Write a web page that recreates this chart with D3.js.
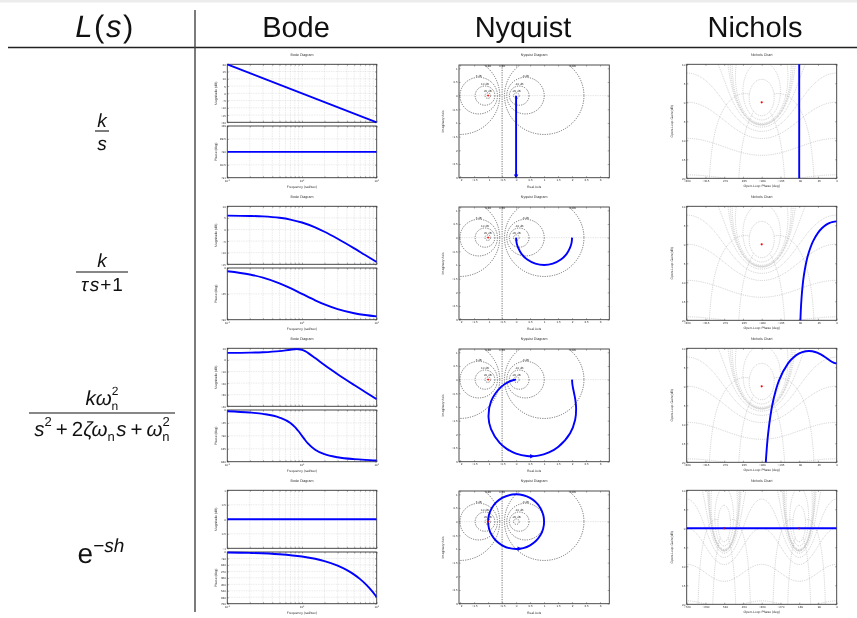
<!DOCTYPE html>
<html>
<head>
<meta charset="utf-8">
<script src="https://cdn.jsdelivr.net/npm/d3@7"></script>
<style>
body { margin: 0; background: #fff; }
svg { opacity: 0.999; will-change: transform; }
svg text { font-family: "Liberation Sans", Arial, sans-serif; text-rendering: geometricPrecision; }
</style>
</head>
<body>
<script>
// ---------- data ----------
// row 1 : k/s
var bode1W = [0.1, 10];
var bode1Mag = [20, -20];
var bode1Phase = [-90, -90];
var nyq1Re = [0, 0];
var nyq1Im = [0, -10];
var nich1Phase = [-90, -90];
var nich1Gain = [30, -40];

// row 2 : k/(tau s + 1)
var bode2W = [0.1, 0.2, 0.3, 0.5, 0.7, 1, 1.5, 2, 3, 5, 7, 10];
var bode2Mag = [5.98, 5.85, 5.65, 5.05, 4.28, 3.01, 0.9, -0.97, -3.98, -8.13, -11.0, -14.0];
var bode2Phase = [-5.7, -11.3, -16.7, -26.6, -35, -45, -56.3, -63.4, -71.6, -78.7, -81.9, -84.3];
var nyq2Re = [2, 1.98, 1.92, 1.8, 1.6, 1.31, 1, 0.69, 0.4, 0.2, 0.08, 0.02, 0];
var nyq2Im = [0, -0.2, -0.38, -0.6, -0.8, -0.95, -1, -0.95, -0.8, -0.6, -0.38, -0.2, 0];
var nich2Phase = [0, -5.7, -11.3, -16.7, -26.6, -35, -45, -56.3, -63.4, -71.6, -78.7, -81.9, -84.3, -86.2, -87.1, -88.1];
var nich2Gain = [6.02, 5.98, 5.85, 5.65, 5.05, 4.28, 3.01, 0.9, -0.97, -3.98, -8.13, -11.0, -14.0, -17.5, -20.0, -23.5];

// row 3 : second order
var bode3W = [0.1, 0.2, 0.3, 0.5, 0.7, 0.8, 0.85, 0.9, 1, 1.1, 1.2, 1.5, 2, 3, 5, 7, 10];
var bode3Mag = [6.08, 6.27, 6.59, 7.57, 8.79, 9.21, 9.27, 9.21, 8.64, 7.53, 6.10, 1.56, -4.47, -12.36, -21.68, -27.65, -33.92];
var bode3Phase = [-4.27, -8.76, -13.7, -26.3, -45.45, -58.7, -66.2, -74.1, -90, -104.5, -116.4, -138.4, -153.7, -164.5, -171.2, -173.8, -175.7];
var nyq3Re = [2, 2.009, 2.035, 2.074, 2.118, 2.145, 2.110, 1.930, 1.500, 1.174, 0.792, 0.387, 0, -0.334, -0.594, -0.896, -0.985, -0.895, -0.536, -0.232, -0.081, -0.020, 0];
var nyq3Im = [0, -0.150, -0.314, -0.506, -0.746, -1.058, -1.464, -1.961, -2.466, -2.662, -2.777, -2.791, -2.703, -2.530, -2.304, -1.808, -1.373, -0.794, -0.265, -0.064, -0.0125, -0.0015, 0];
var nich3Phase = [0, -4.27, -8.76, -13.7, -26.3, -45.45, -58.7, -66.2, -74.1, -90, -104.5, -116.4, -138.4, -153.7, -164.5, -171.2, -173.8];
var nich3Gain = [6.02, 6.08, 6.27, 6.59, 7.57, 8.79, 9.21, 9.27, 9.21, 8.64, 7.53, 6.10, 1.56, -4.47, -12.36, -21.68, -27.65];

// row 4 : delay
var bode4W = [0.1, 10];
var bode4Mag = [0, 0];
var bode4PW = [0.1, 0.2, 0.5, 1, 1.5, 2, 3, 4, 5, 6, 7, 8, 9, 10];
var bode4Phase = [-6.3, -12.6, -31.5, -63, -94.5, -126, -189, -252, -315, -378, -441, -504, -567, -630];
var nyq4Re = [1, 0.866, 0.5, 0, -0.5, -0.866, -1, -0.866, -0.5, 0, 0.5, 0.866];
var nyq4Im = [0, -0.5, -0.866, -1, -0.866, -0.5, 0, 0.5, 0.866, 1, 0.866, 0.5];
var nich4Phase = [-760, 0];
var nich4Gain = [0, 0];

// axis ticks
var bodeMagTicks = [d3.range(-20, 21, 5), d3.range(-15, 11, 5), d3.range(-40, 11, 10), [-1, -0.5, 0, 0.5, 1]];
var bodeMagDom = [[-20, 20], [-15, 10], [-40, 10], [-1, 1]];
var bodePhTicks = [[-91, -90.5, -90, -89.5, -89], [-90, -45, 0], [-180, -135, -90, -45, 0], d3.range(-720, 1, 90)];
var bodePhDom = [[-91, -89], [-90, 0], [-180, 0], [-720, 0]];
var nyqXTicks = [-2, -1.5, -1, -0.5, 0, 0.5, 1, 1.5, 2, 2.5, 3];
var nyqYTicks = [-3, -2.5, -2, -1.5, -1, -0.5, 0, 0.5, 1];
var nyqDb = [-20, -10, -6, -3, 0, 3, 6, 10, 20];
var nichGainTicks = [-20, -15, -10, -5, 0, 5, 10];
var nichM = [6, 3, 1, 0.5, 0.25, 0, -1, -3, -6, -12, -20];
var nichN = [-50, -120, -240, -310];

// ---------- layout ----------
var rowPitch = 142;
var bodeL = 227.3, bodeR = 376.7, magT = 64.3, magB = 122.3, phT = 126, phB = 177.7;
var nyL = 459, nyR = 609.3, nyT = 65, nyB = 177.7;
var niL = 686.7, niR = 836.7, niT = 64.3, niB = 178.3;
var small = 3.4, ink = "#333", lw = 1.9;

var svg = d3.select("body").append("svg").attr("width", 857).attr("height", 618);
svg.append("rect").attr("width", 857).attr("height", 618).attr("fill", "#fff");
var defs = svg.append("defs");
var clipId = 0;

function clip(x, y, w, h) {
    var id = "c" + (clipId++);
    defs.append("clipPath").attr("id", id).append("rect")
        .attr("x", x).attr("y", y).attr("width", w).attr("height", h);
    return "url(#" + id + ")";
}

function txt(g, x, y, s, size, anchor) {
    return g.append("text").attr("x", x).attr("y", y).attr("font-size", size)
        .attr("text-anchor", anchor || "middle").attr("fill", ink).text(s);
}

function vtxt(g, x, y, s) {
    return g.append("text").attr("transform", "translate(" + x + "," + y + ") rotate(-90)")
        .attr("font-size", small).attr("text-anchor", "middle").attr("fill", ink).text(s);
}

function boxFrame(g, x0, y0, x1, y1) {
    g.append("rect").attr("x", x0).attr("y", y0).attr("width", x1 - x0).attr("height", y1 - y0)
        .attr("fill", "none").attr("stroke", "#3a3a3a").attr("stroke-width", 0.9);
}

function yAxis(g, y, x0, x1, ticks) {
    var a = g.append("g").attr("transform", "translate(" + x0 + ",0)")
        .call(d3.axisLeft(y).tickValues(ticks).tickSizeInner(-1.6).tickSizeOuter(0).tickPadding(1.4).tickFormat(d3.format("")));
    a.select(".domain").remove();
    a.selectAll("text").attr("font-size", small - 0.4).attr("fill", ink);
    a.selectAll("line").attr("stroke", ink).attr("stroke-width", 0.4);
    var b = g.append("g").attr("transform", "translate(" + x1 + ",0)")
        .call(d3.axisRight(y).tickValues(ticks).tickSizeInner(-1.6).tickSizeOuter(0).tickFormat(""));
    b.select(".domain").remove();
    b.selectAll("line").attr("stroke", ink).attr("stroke-width", 0.4);
}

function xAxis(g, x, y0, y1, ticks, labels) {
    var a = g.append("g").attr("transform", "translate(0," + y1 + ")")
        .call(d3.axisBottom(x).tickValues(ticks).tickSizeInner(-1.6).tickSizeOuter(0).tickPadding(1.6).tickFormat(labels ? d3.format("") : ""));
    a.select(".domain").remove();
    a.selectAll("text").attr("font-size", small - 0.4).attr("fill", ink);
    a.selectAll("line").attr("stroke", ink).attr("stroke-width", 0.4);
    var b = g.append("g").attr("transform", "translate(0," + y0 + ")")
        .call(d3.axisTop(x).tickValues(ticks).tickSizeInner(-1.6).tickSizeOuter(0).tickFormat(""));
    b.select(".domain").remove();
    b.selectAll("line").attr("stroke", ink).attr("stroke-width", 0.4);
}

function zip(a, b) { return a.map(function (v, i) { return [v, b[i]]; }); }

// ---------- header ----------
svg.append("rect").attr("x", 0).attr("y", 0).attr("width", 857).attr("height", 2.5).attr("fill", "#ececec");
var head = svg.append("g").attr("font-size", 29).attr("fill", "#111");
var ls = head.append("text").attr("x", 105).attr("y", 37).attr("text-anchor", "middle").attr("font-size", 31).attr("letter-spacing", 1.5);
ls.append("tspan").attr("font-style", "italic").text("L");
ls.append("tspan").text("(");
ls.append("tspan").attr("font-style", "italic").text("s");
ls.append("tspan").text(")");
head.append("text").attr("x", 296).attr("y", 37).attr("text-anchor", "middle").text("Bode");
head.append("text").attr("x", 523).attr("y", 37).attr("text-anchor", "middle").text("Nyquist");
head.append("text").attr("x", 755).attr("y", 37).attr("text-anchor", "middle").text("Nichols");
svg.append("line").attr("x1", 8).attr("x2", 857).attr("y1", 47.5).attr("y2", 47.5).attr("stroke", "#222").attr("stroke-width", 1.4);
svg.append("line").attr("x1", 195).attr("x2", 195).attr("y1", 10).attr("y2", 612).attr("stroke", "#444").attr("stroke-width", 1.4);

// ---------- formulas ----------
var fm = svg.append("g").attr("fill", "#111").attr("font-family", "'DejaVu Sans', sans-serif");
function frac(cx, numY, barY, denY, x0, x1, num, den, size) {
    var n = fm.append("text").attr("x", cx).attr("y", numY).attr("text-anchor", "middle").attr("font-size", size || 19);
    num(n);
    fm.append("line").attr("x1", x0).attr("x2", x1).attr("y1", barY).attr("y2", barY).attr("stroke", "#111").attr("stroke-width", 1.1);
    var d = fm.append("text").attr("x", cx).attr("y", denY).attr("text-anchor", "middle").attr("font-size", size || 19);
    den(d);
}
function it(t, s) { return t.append("tspan").attr("font-style", "italic").text(s); }
function up(t, s) { return t.append("tspan").text(s); }
function supsub(t) {
    t.append("tspan").attr("font-size", 12).attr("dy", -10).text("2");
    t.append("tspan").attr("font-size", 12).attr("dx", -7).attr("dy", 15).text("n");
}

frac(102, 127, 131, 150, 95, 109, function (t) { it(t, "k"); }, function (t) { it(t, "s"); });
frac(102, 267, 272, 291, 76, 128, function (t) { it(t, "k"); }, function (t) {
    it(t, "τ"); it(t, "s").attr("dx", 1.5); up(t, "+").attr("dx", 1); up(t, "1").attr("dx", 1);
});
frac(102, 405, 413, 436, 29, 175, function (t) {
    it(t, "kω"); supsub(t);
}, function (t) {
    it(t, "s"); t.append("tspan").attr("font-size", 13).attr("dy", -10).text("2");
    up(t, "+").attr("dy", 10).attr("dx", 4); up(t, "2").attr("dx", 4); it(t, "ζω");
    t.append("tspan").attr("font-size", 13).attr("dy", 5).text("n");
    it(t, "s").attr("dy", -5).attr("dx", 1.5); up(t, "+").attr("dx", 4); it(t, "ω").attr("dx", 4);
    t.append("tspan").attr("font-size", 13).attr("dy", -10).text("2");
    t.append("tspan").attr("font-size", 13).attr("dx", -7.5).attr("dy", 15).text("n");
}, 20.5);
var ex = fm.append("text").attr("x", 101).attr("y", 563).attr("text-anchor", "middle").attr("font-size", 28);
ex.append("tspan").text("e");
ex.append("tspan").attr("font-size", 19).attr("dy", -11).text("−");
ex.append("tspan").attr("font-size", 19).attr("font-style", "italic").text("sh");

// ---------- bode ----------
var logGrid = [0.2, 0.3, 0.4, 0.5, 0.6, 0.7, 0.8, 0.9, 1, 2, 3, 4, 5, 6, 7, 8, 9];
var bodeData = [
    [bode1W, bode1Mag, bode1W, bode1Phase],
    [bode2W, bode2Mag, bode2W, bode2Phase],
    [bode3W, bode3Mag, bode3W, bode3Phase],
    [bode4W, bode4Mag, bode4PW, bode4Phase]
];

function bode(r) {
    var oy = r * rowPitch;
    var g = svg.append("g");
    var x = d3.scaleLog().domain([0.1, 10]).range([bodeL, bodeR]);
    var yM = d3.scaleLinear().domain(bodeMagDom[r]).range([magB + oy, magT + oy]);
    var yP = d3.scaleLinear().domain(bodePhDom[r]).range([phB + oy, phT + oy]);
    [[yM, bodeMagTicks[r], magT + oy, magB + oy], [yP, bodePhTicks[r], phT + oy, phB + oy]].forEach(function (p) {
        var y = p[0];
        g.selectAll(null).data(logGrid).enter().append("line")
            .attr("x1", x).attr("x2", x).attr("y1", p[2]).attr("y2", p[3])
            .attr("stroke", "#c4c4c4").attr("stroke-width", 0.45).attr("stroke-dasharray", "0.8,0.9");
        g.selectAll(null).data(p[1]).enter().append("line")
            .attr("x1", bodeL).attr("x2", bodeR).attr("y1", y).attr("y2", y)
            .attr("stroke", "#c4c4c4").attr("stroke-width", 0.45).attr("stroke-dasharray", "0.8,0.9");
        yAxis(g, y, bodeL, bodeR, p[1]);
        xAxis(g, x, p[2], p[3], logGrid.concat([0.1, 10]), false);
        boxFrame(g, bodeL, p[2], bodeR, p[3]);
    });
    var d = bodeData[r];
    var lineM = d3.line().x(function (v) { return x(v[0]); }).y(function (v) { return yM(v[1]); }).curve(d3.curveMonotoneX);
    var lineP = d3.line().x(function (v) { return x(v[0]); }).y(function (v) { return yP(v[1]); }).curve(d3.curveMonotoneX);
    g.append("path").attr("d", lineM(zip(d[0], d[1]))).attr("fill", "none").attr("stroke", "#0000ff").attr("stroke-width", lw)
        .attr("clip-path", clip(bodeL, magT + oy - 1, bodeR - bodeL, magB - magT + 2));
    g.append("path").attr("d", lineP(zip(d[2], d[3]))).attr("fill", "none").attr("stroke", "#0000ff").attr("stroke-width", lw)
        .attr("clip-path", clip(bodeL, phT + oy - 1, bodeR - bodeL, phB - phT + 2));
    [-1, 0, 1].forEach(function (e) {
        var t = g.append("text").attr("x", x(Math.pow(10, e))).attr("y", phB + oy + 4.6).attr("font-size", 3).attr("text-anchor", "middle").attr("fill", ink);
        t.append("tspan").text("10");
        t.append("tspan").attr("font-size", 2.2).attr("dy", -1.3).text(e);
    });
    txt(g, (bodeL + bodeR) / 2, 55.7 + oy, "Bode Diagram", 3.6);
    txt(g, (bodeL + bodeR) / 2, 188 + oy, "Frequency  (rad/sec)", small);
    vtxt(g, 216.5, (magT + magB) / 2 + oy, "Magnitude (dB)");
    vtxt(g, 216.5, (phT + phB) / 2 + oy, "Phase (deg)");
}

// ---------- nyquist ----------
var nyqData = [[nyq1Re, nyq1Im], [nyq2Re, nyq2Im], [nyq3Re, nyq3Im], [nyq4Re, nyq4Im]];
var nyqArrow = [[0, -2.93, 180], null, [0.55, -2.8, 90], [0.1, -0.99, 90]];

function nyquist(r) {
    var oy = r * rowPitch;
    var g = svg.append("g");
    var x = d3.scaleLinear().domain([-2.04, 3.33]).range([nyL, nyR]);
    var y = d3.scaleLinear().domain([-3, 1.12]).range([nyB + oy, nyT + oy]);
    var cp = clip(nyL, nyT + oy, nyR - nyL, nyB - nyT);
    var grid = g.append("g").attr("clip-path", cp);
    grid.append("line").attr("x1", nyL).attr("x2", nyR).attr("y1", y(0)).attr("y2", y(0))
        .attr("stroke", "#bbb").attr("stroke-width", 0.5).attr("stroke-dasharray", "0.8,0.9");
    nyqDb.forEach(function (db) {
        var m = Math.pow(10, db / 20);
        var lx, ly;
        if (db === 0) {
            grid.append("line").attr("x1", x(-0.5)).attr("x2", x(-0.5)).attr("y1", nyT + oy).attr("y2", nyB + oy)
                .attr("stroke", "#4a4a4a").attr("stroke-width", 0.75).attr("stroke-dasharray", "1.2,1.2");
            lx = -0.5; ly = 1.0;
        } else {
            var c = -m * m / (m * m - 1), rad = Math.abs(m / (m * m - 1));
            grid.append("ellipse").attr("cx", x(c)).attr("cy", y(0))
                .attr("rx", x(c + rad) - x(c)).attr("ry", y(0) - y(rad))
                .attr("fill", "none").attr("stroke", "#4a4a4a").attr("stroke-width", 0.75).attr("stroke-dasharray", "1.2,1.2");
            if (rad < 1.05) { lx = c; ly = rad; }
            else { lx = c + Math.sqrt(rad * rad - 1); ly = 1.0; }
        }
        txt(g, x(lx), y(ly) - 0.8, db + " dB", 3);
    });
    var d = nyqData[r];
    var line = d3.line().x(function (v) { return x(v[0]); }).y(function (v) { return y(v[1]); })
        .curve(r === 3 ? d3.curveCatmullRomClosed : (r === 0 ? d3.curveLinear : d3.curveCatmullRom));
    g.append("path").attr("d", line(zip(d[0], d[1]))).attr("fill", "none").attr("stroke", "#0000ff")
        .attr("stroke-width", lw).attr("clip-path", cp);
    if (nyqArrow[r]) {
        var a = nyqArrow[r];
        g.append("path").attr("d", d3.symbol(d3.symbolTriangle, 9)())
            .attr("transform", "translate(" + x(a[0]) + "," + y(a[1]) + ") rotate(" + a[2] + ")").attr("fill", "#0000ff");
    }
    g.append("path").attr("d", d3.symbol(d3.symbolCross, 3)()).attr("transform", "translate(" + x(-1) + "," + y(0) + ")").attr("fill", "#ff0000");
    yAxis(g, y, nyL, nyR, nyqYTicks);
    xAxis(g, x, nyT + oy, nyB + oy, nyqXTicks, true);
    boxFrame(g, nyL, nyT + oy, nyR, nyB + oy);
    txt(g, (nyL + nyR) / 2, 55.7 + oy, "Nyquist Diagram", 3.6);
    txt(g, (nyL + nyR) / 2, 187.5 + oy, "Real Axis", small);
    vtxt(g, 443.5, (nyT + nyB) / 2 + oy, "Imaginary Axis");
}

// ---------- nichols ----------
var nichData = [[nich1Phase, nich1Gain], [nich2Phase, nich2Gain], [nich3Phase, nich3Gain], [nich4Phase, nich4Gain]];

// open-loop point for a closed-loop magnitude m and phase phi (grid contours)
function olPoint(m, phiDeg) {
    var p = phiDeg * Math.PI / 180, tr = m * Math.cos(p), ti = m * Math.sin(p);
    var den = (1 - tr) * (1 - tr) + ti * ti;
    var gr = (tr - m * m) / den, gi = ti / den;
    var ph = Math.atan2(gi, gr) * 180 / Math.PI;
    if (ph > 0) ph -= 360;
    return [ph, 10 * Math.log10(gr * gr + gi * gi)];
}

function breakJumps(pts) {
    var out = [];
    pts.forEach(function (p, i) {
        if (i > 0 && Math.abs(p[0] - pts[i - 1][0]) > 90) out.push(null);
        out.push(p);
    });
    return out;
}

function nichols(r) {
    var oy = r * rowPitch;
    var g = svg.append("g");
    var xmin = r === 3 ? -720 : -360;
    var x = d3.scaleLinear().domain([xmin, 0]).range([niL, niR]);
    var y = d3.scaleLinear().domain([-20, 10]).range([niB + oy, niT + oy]);
    var cp = clip(niL, niT + oy, niR - niL, niB - niT);
    var grid = g.append("g").attr("clip-path", cp);
    var shifts = r === 3 ? [0, -360] : [0];
    var contours = [];
    nichM.forEach(function (db) {
        var m = Math.pow(10, db / 20);
        contours.push(breakJumps(d3.range(-0.25, -360, -0.5).map(function (phi) { return olPoint(m, phi); })));
    });
    nichN.forEach(function (phi) {
        contours.push(breakJumps(d3.range(-120, 13).map(function (k) { return olPoint(Math.pow(10, k / 40), phi); })));
    });
    shifts.forEach(function (s) {
        var line = d3.line().defined(function (v) { return v && isFinite(v[1]); })
            .x(function (v) { return x(v[0] + s); }).y(function (v) { return y(Math.max(-60, Math.min(40, v[1]))); });
        contours.forEach(function (c) {
            grid.append("path").attr("d", line(c)).attr("fill", "none")
                .attr("stroke", "#a8a8a8").attr("stroke-width", 0.55).attr("stroke-dasharray", "0.9,1");
        });
    });
    var xticks = d3.range(xmin, 1, r === 3 ? 90 : 45);
    yAxis(g, y, niL, niR, nichGainTicks);
    xAxis(g, x, niT + oy, niB + oy, xticks, true);
    boxFrame(g, niL, niT + oy, niR, niB + oy);
    var d = nichData[r];
    var line = d3.line().x(function (v) { return x(v[0]); }).y(function (v) { return y(v[1]); }).curve(d3.curveMonotoneY);
    if (r === 1 || r === 2) line.curve(d3.curveCatmullRom);
    g.append("path").attr("d", line(zip(d[0], d[1]))).attr("fill", "none").attr("stroke", "#0000ff")
        .attr("stroke-width", lw).attr("clip-path", cp);
    shifts.forEach(function (s) {
        g.append("circle").attr("cx", x(-180 + s)).attr("cy", y(0)).attr("r", 1.1)
            .attr("fill", r === 3 ? "#8a0a6a" : "#ff0000");
    });
    txt(g, (niL + niR) / 2, 55.7 + oy, "Nichols Chart", 3.6);
    txt(g, (niL + niR) / 2, 187.3 + oy, "Open-Loop Phase (deg)", small);
    vtxt(g, 673, (niT + niB) / 2 + oy, "Open-Loop Gain (dB)");
}

for (var r = 0; r < 4; r++) { bode(r); nyquist(r); nichols(r); }
</script>
</body>
</html>
